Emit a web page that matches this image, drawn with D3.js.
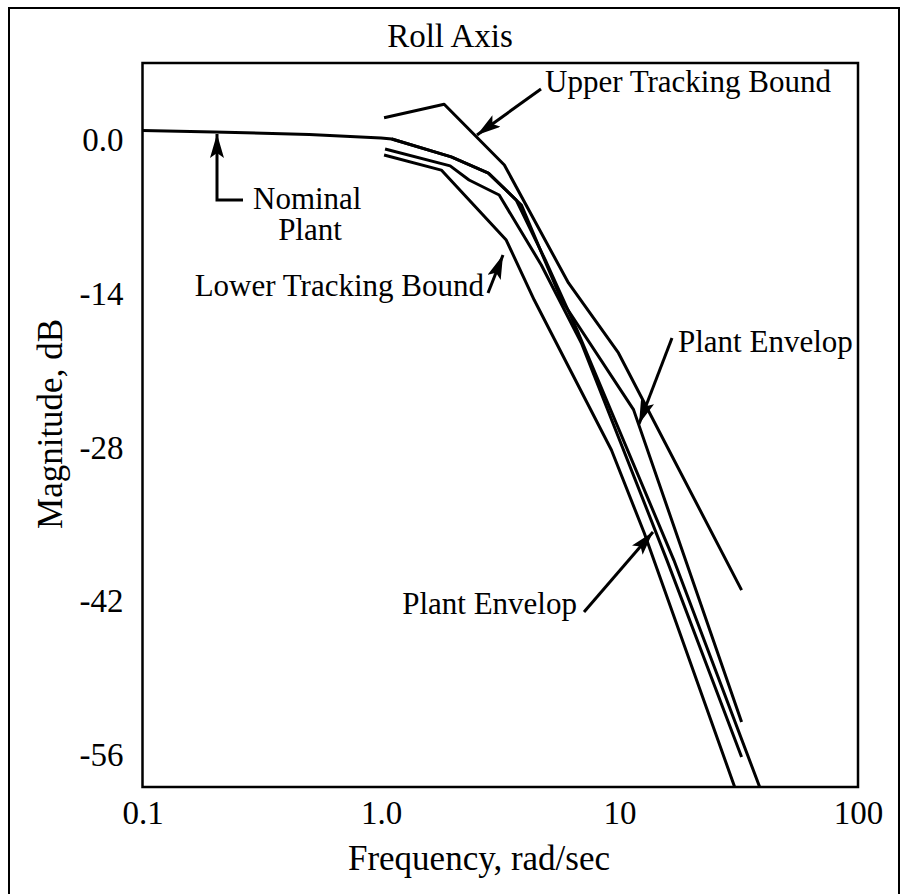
<!DOCTYPE html>
<html>
<head>
<meta charset="utf-8">
<script src="https://cdn.jsdelivr.net/npm/d3@7"></script>
<style>
  body { margin: 0; background: #fff; }
  svg { display: block; }
  text { font-family: "Liberation Serif", "Times New Roman", serif; fill: #000; }
</style>
</head>
<body>
<div id="chart"></div>
<script>
// axis ticks
var xTicks = [0.1, 1, 10, 100];
var xTickLabels = ["0.1", "1.0", "10", "100"];
var yTicks = [0, -14, -28, -42, -56];
var yTickLabels = ["0.0", "-14", "-28", "-42", "-56"];

// frequency, rad/sec  /  magnitude, dB
var nominalFreq = [0.1, 0.2, 0.5, 1.0, 1.11, 1.97, 2.82, 3.69, 4.93, 6.72, 16.9, 38.7];
var nominalMag  = [0.87, 0.73, 0.50, 0.18, 0.09, -1.54, -3.01, -5.47, -11.11, -17.57, -38.25, -58.91];

var upperBoundFreq = [1.03, 1.84, 3.29, 6.11, 9.9, 32.5];
var upperBoundMag  = [2.03, 3.26, -2.28, -13.02, -19.39, -40.98];

var lowerBoundFreq = [1.03, 1.79, 3.35, 4.39, 9.25, 12.7, 30.4];
var lowerBoundMag  = [-1.37, -2.74, -9.11, -14.57, -28.23, -35.79, -58.91];

var envUpperFreq = [1.11, 1.97, 2.82, 3.88, 5.71, 11.45, 32.5];
var envUpperMag  = [0.09, -1.54, -3.01, -5.92, -14.57, -24.55, -53.0];

var envLowerFreq = [1.04, 1.95, 2.34, 3.13, 4.70, 6.92, 15.8, 32.5];
var envLowerMag  = [-0.82, -2.36, -3.64, -5.01, -11.38, -18.48, -38.25, -56.18];

var W = 902, H = 894;
var plotL = 142.5, plotR = 858, plotT = 63, plotB = 787;
var fs = 31;

var svg = d3.select("#chart")
    .append("svg")
    .attr("width", W)
    .attr("height", H);

// outer frame
svg.append("path")
   .attr("d", "M9,900 L9,8 L899,8 L899,900")
   .attr("fill", "none")
   .attr("stroke", "black")
   .attr("stroke-width", 2);

var x = d3.scaleLog().domain([0.1, 100]).range([plotL, plotR]);
var y = d3.scaleLinear().domain([-58.91, 7.01]).range([plotB, plotT]);

var defs = svg.append("defs");
defs.append("clipPath").attr("id", "plot")
   .append("rect")
   .attr("x", plotL).attr("y", plotT)
   .attr("width", plotR - plotL).attr("height", plotB - plotT);

defs.append("marker")
   .attr("id", "head")
   .attr("viewBox", "0 0 24 14")
   .attr("refX", 24).attr("refY", 7)
   .attr("markerWidth", 24).attr("markerHeight", 14)
   .attr("markerUnits", "userSpaceOnUse")
   .attr("orient", "auto")
   .append("path")
   .attr("d", "M0,0 L24,7 L0,14 L5,7 Z")
   .attr("fill", "black");

var line = d3.line()
    .x(function(d) { return x(d[0]); })
    .y(function(d) { return y(d[1]); });

var curves = [
  [nominalFreq, nominalMag],
  [upperBoundFreq, upperBoundMag],
  [lowerBoundFreq, lowerBoundMag],
  [envUpperFreq, envUpperMag],
  [envLowerFreq, envLowerMag]
];

svg.append("g")
   .attr("clip-path", "url(#plot)")
   .selectAll("path")
   .data(curves)
   .enter().append("path")
   .attr("d", function(c) { return line(d3.zip(c[0], c[1])); })
   .attr("fill", "none")
   .attr("stroke", "black")
   .attr("stroke-width", 3)
   .attr("stroke-linejoin", "round");

// plot box
svg.append("rect")
   .attr("x", plotL).attr("y", plotT)
   .attr("width", plotR - plotL).attr("height", plotB - plotT)
   .attr("fill", "none")
   .attr("stroke", "black")
   .attr("stroke-width", 2.5);

// axes
var xAxis = svg.append("g")
   .attr("transform", "translate(0," + plotB + ")")
   .call(d3.axisBottom(x).tickValues(xTicks).tickSize(0).tickPadding(14)
         .tickFormat(function(d, i) { return xTickLabels[i]; }));
var yAxis = svg.append("g")
   .attr("transform", "translate(" + plotL + ",0)")
   .call(d3.axisLeft(y).tickValues(yTicks).tickSize(0).tickPadding(19)
         .tickFormat(function(d, i) { return yTickLabels[i]; }));
[xAxis, yAxis].forEach(function(a) {
  a.attr("font-family", null);
  a.select(".domain").remove();
  a.selectAll("text").attr("font-size", 33);
});

svg.append("text")
   .attr("x", 450).attr("y", 47)
   .attr("text-anchor", "middle").attr("font-size", 33)
   .text("Roll Axis");

svg.append("text")
   .attr("x", 479).attr("y", 870)
   .attr("text-anchor", "middle").attr("font-size", 35)
   .text("Frequency, rad/sec");

svg.append("text")
   .attr("transform", "translate(62,424) rotate(-90)")
   .attr("text-anchor", "middle").attr("font-size", 35)
   .text("Magnitude, dB");

// annotations
function arrow(pts) {
  svg.append("path")
     .attr("d", d3.line()(pts))
     .attr("fill", "none")
     .attr("stroke", "black")
     .attr("stroke-width", 3)
     .attr("marker-end", "url(#head)");
}
function label(tx, ty, txt, anchor) {
  svg.append("text")
     .attr("x", tx).attr("y", ty)
     .attr("text-anchor", anchor || "start")
     .attr("font-size", fs)
     .text(txt);
}

arrow([[541, 89], [477, 135]]);
label(545, 92, "Upper Tracking Bound");

arrow([[243, 200], [217, 200], [217, 134]]);
label(253, 209, "Nominal");
label(310, 240, "Plant", "middle");

arrow([[488, 293], [503, 255]]);
label(484, 296, "Lower Tracking Bound", "end");

arrow([[672, 338], [639, 424]]);
label(678, 352, "Plant Envelop");

arrow([[584, 612], [653, 532]]);
label(577, 614, "Plant Envelop", "end");
</script>
</body>
</html>
